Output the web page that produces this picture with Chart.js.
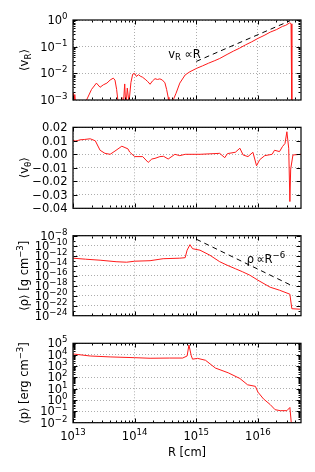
<!DOCTYPE html>
<html><head><meta charset="utf-8">
<script src="https://cdn.jsdelivr.net/npm/chart.js@4.4.1/dist/chart.umd.min.js"></script>
<style>
html,body{margin:0;padding:0;background:#fff;}
#wrap{position:relative;width:315px;height:472px;}
canvas{position:absolute;left:0;top:0;}
</style></head>
<body><div id="wrap">
<canvas id="c1" width="315" height="472"></canvas>
<canvas id="c2" width="315" height="472"></canvas>
<canvas id="c3" width="315" height="472"></canvas>
<canvas id="c4" width="315" height="472"></canvas>
</div>
<script>
// ---------- DATA ----------
// panel 1: <v_R>
const R_vr = [1.0e13,1.02e13,1.07e13,1.12e13,1.6e13,1.66e13,2.0e13,2.4e13,2.75e13,3.1e13,3.55e13,4.0e13,4.5e13,4.8e13,5.1e13,5.4e13,5.75e13,6.2e13,6.5e13,6.9e13,7.2e13,7.6e13,8.1e13,8.7e13,9.3e13,1.0e14,1.07e14,1.15e14,1.23e14,1.35e14,1.48e14,1.62e14,1.78e14,1.95e14,2.14e14,2.34e14,2.57e14,2.82e14,3.1e14,3.3e14,3.5e14,3.6e14,4.0e14,4.3e14,4.7e14,5.4e14,6.6e14,7.9e14,1.02e15,1.26e15,1.58e15,2.0e15,2.4e15,3.16e15,4.0e15,5.0e15,6.3e15,7.9e15,1.0e16,1.26e16,1.58e16,2.0e16,2.5e16,2.82e16,3.3e16,3.45e16,3.55e16];
const vr   = [1.8e-3,5e-4,1.6e-3,5e-4,5e-4,1.0e-3,2.5e-3,4.3e-3,3.0e-3,3.7e-3,4.3e-3,5.6e-3,6.6e-3,5.6e-3,2.5e-3,8e-4,4e-4,1.25e-3,5e-4,4.0e-3,5e-4,2.8e-3,8e-4,4.5e-3,9.3e-3,1.0e-2,7.6e-3,8.9e-3,7.9e-3,7.1e-3,6.0e-3,5.0e-3,3.9e-3,5.2e-3,6.3e-3,5.9e-3,6.2e-3,5.6e-3,4.4e-3,2.5e-3,1.26e-3,5e-4,9e-4,1.1e-3,1.8e-3,4.3e-3,8.7e-3,1.15e-2,1.55e-2,1.9e-2,2.4e-2,3.0e-2,3.6e-2,5.1e-2,6.8e-2,8.7e-2,0.117,0.151,0.204,0.263,0.35,0.436,0.575,0.63,0.79,0.72,3e-4];
const R_fitV = [1.0e15, 3.3e16];
const fitV   = [2.8e-2, 0.93];

// panel 2: <v_theta>
const R_vt = [1.0e13,1.12e13,1.29e13,1.55e13,1.9e13,2.3e13,2.75e13,3.3e13,4.0e13,4.8e13,6.2e13,7.8e13,8.3e13,1.0e14,1.35e14,1.66e14,1.9e14,2.14e14,2.57e14,2.95e14,3.5e14,4.5e14,5.4e14,6.6e14,1.15e15,2.4e15,2.9e15,3.2e15,4.3e15,5.1e15,5.75e15,6.9e15,8.3e15,9.5e15,1.07e16,1.29e16,1.7e16,1.86e16,2.24e16,2.5e16,2.75e16,2.95e16,3.16e16,3.3e16,3.4e16,3.7e16,5.0e16];
const vt   = [0.0102,0.0098,0.0107,0.011,0.0115,0.010,0.003,0.0007,0.0,0.0024,0.006,0.004,0.0017,-0.0017,-0.0017,-0.006,-0.0035,-0.003,-0.0017,-0.0015,-0.0035,0.0,-0.001,0.0,0.0,0.0007,-0.0025,0.0005,0.0015,0.0045,-0.0005,-0.0017,0.0015,-0.0085,-0.004,-0.001,0.0,0.003,0.002,0.0057,0.008,0.0167,0.0045,-0.035,-0.011,-0.0005,0.0];

// panel 3: <rho>
const R_rho = [1.0e13,1.6e13,2.75e13,5.0e13,7.4e13,1.0e14,1.78e14,2.9e14,5.4e14,6.6e14,7.1e14,7.9e14,8.7e14,1.15e15,1.66e15,2.4e15,3.16e15,4.3e15,5.6e15,7.4e15,1.0e16,1.58e16,2.24e16,3.3e16,3.55e16,4.8e16];
const rho   = [3.2e-13,2.0e-13,1.26e-13,6.3e-14,5.0e-14,7.9e-14,1.0e-13,2.5e-13,3.2e-13,4.0e-13,1.26e-11,1.6e-10,2.5e-11,1.26e-11,1.26e-12,6.3e-14,1.26e-14,2.5e-15,6.3e-16,1.26e-16,1.26e-17,5.0e-19,1.26e-19,2.0e-20,2.5e-23,2.0e-23];
const R_fitRho = [1.0e15, 3.3e16];
const fitRho   = [2.0e-9, 1.6e-18];

// panel 4: <p>
const R_p = [1.0e13,1.9e13,4.0e13,1.0e14,1.78e14,3.7e14,6.0e14,7.1e14,7.6e14,8.3e14,8.7e14,1.05e15,1.41e15,2.04e15,3.3e15,5.1e15,6.8e15,9.1e15,1.0e16,1.23e16,1.58e16,1.9e16,2.3e16,2.95e16,3.3e16,3.55e16];
const pr  = [1.15e4,7.6e3,6.3e3,5.4e3,4.8e3,5.0e3,5.0e3,7.6e3,7.1e4,7.9e3,4.0e3,4.7e3,3.2e3,660,250,79,22,16,5.0,1.26,0.4,0.14,0.115,0.115,0.22,3e-3];

// tick labels
const xTickExp   = [13,14,15,16];
const vrTickExp  = [0,-1,-2,-3];
const vtTicks    = [0.02,0.01,0.00,-0.01,-0.02,-0.03,-0.04];
const rhoTickExp = [-8,-10,-12,-14,-16,-18,-20,-22,-24];
const pTickExp   = [5,4,3,2,1,0,-1,-2];

// ---------- HELPERS ----------
const FONT = '"DejaVu Sans", sans-serif';
const FS = 11.5;
const X_MIN = 1e13, X_MAX = 5e16;
function mstr(n){ return n < 0 ? '\u2212' + Math.abs(n) : String(n); }
function pow10Parts(e){ return [{t:'10'},{t:mstr(e),s:'sup'}]; }
function partFont(p, fs){ return (p.s ? fs*0.75 : fs) + 'px ' + FONT; }
function richWidth(ctx, parts, fs){
  let w = 0;
  for (const p of parts){ ctx.font = partFont(p, fs); w += ctx.measureText(p.t).width; }
  return w;
}
function drawRich(ctx, parts, x, y, fs, align){
  const w = richWidth(ctx, parts, fs);
  let cx = align === 'right' ? x - w : (align === 'center' ? x - w/2 : x);
  ctx.textAlign = 'left'; ctx.textBaseline = 'alphabetic';
  for (const p of parts){
    ctx.font = partFont(p, fs);
    const dy = p.s === 'sup' ? -0.45*fs : (p.s === 'sub' ? 0.22*fs : 0);
    ctx.fillText(p.t, cx, y + dy);
    cx += ctx.measureText(p.t).width;
  }
}
function decadeMinors(lo, hi, maxV){
  const out = [];
  for (let e = lo; e <= hi; e++) for (let m = 2; m <= 9; m++){ const v = m*Math.pow(10,e); if (v < maxV) out.push(v); }
  return out;
}
const xMajors = xTickExp.map(e => Math.pow(10,e));
const xMinors = decadeMinors(13,16,X_MAX);

function frameTicksPlugin(cfg){
  return {
    id: 'frameTicks',
    afterDatasetsDraw(chart){
      const ctx = chart.ctx, a = chart.chartArea;
      const xs = chart.scales.x, ys = chart.scales.y;
      ctx.save();
      ctx.strokeStyle = '#000'; ctx.lineWidth = 1;
      const L = Math.round(a.left)+0.5, Rr = Math.round(a.right)-0.5, T = Math.round(a.top)+0.5, B = Math.round(a.bottom)-0.5;
      ctx.beginPath();
      const tick = (v, len, horiz) => {
        if (horiz){
          const px = Math.round(xs.getPixelForValue(v))+0.5;
          if (px < L-0.1 || px > Rr+0.1) return;
          ctx.moveTo(px, B); ctx.lineTo(px, B-len);
          ctx.moveTo(px, T); ctx.lineTo(px, T+len);
        } else {
          const py = Math.round(ys.getPixelForValue(v))+0.5;
          if (py < T-0.1 || py > B+0.1) return;
          ctx.moveTo(L, py); ctx.lineTo(L+len, py);
          ctx.moveTo(Rr, py); ctx.lineTo(Rr-len, py);
        }
      };
      xMajors.forEach(v => tick(v, 4, true));
      xMinors.forEach(v => tick(v, 2, true));
      cfg.yMajors.forEach(v => tick(v, 4, false));
      cfg.yMinors.forEach(v => tick(v, 2, false));
      ctx.stroke();
      ctx.lineWidth = 1.2;
      ctx.strokeRect(a.left, a.top, a.right - a.left, a.bottom - a.top);
      ctx.fillStyle = '#000';
      // y tick labels
      cfg.yLabels.forEach(l => {
        const py = ys.getPixelForValue(l.v);
        drawRich(ctx, l.parts, a.left - 5.5, py + 0.36*FS, FS, 'right');
      });
      // x tick labels
      if (cfg.xLabels){
        xTickExp.forEach(e => {
          const px = xs.getPixelForValue(Math.pow(10,e));
          drawRich(ctx, pow10Parts(e), px, a.bottom + 17.5, FS, 'center');
        });
        ctx.font = FS + 'px ' + FONT; ctx.textAlign = 'center';
        ctx.fillText('R [cm]', (a.left + a.right)/2, a.bottom + 33);
      }
      // y title (rotated)
      ctx.save();
      ctx.translate(cfg.titleX, (a.top + a.bottom)/2);
      ctx.rotate(-Math.PI/2);
      drawRich(ctx, cfg.title, 0, 4, FS, 'center');
      ctx.restore();
      // annotation
      if (cfg.note){
        drawRich(ctx, cfg.note.parts, xs.getPixelForValue(cfg.note.x), ys.getPixelForValue(cfg.note.y), FS, 'left');
      }
      ctx.restore();
    }
  };
}

function makeChart(id, top, bottom, yOpts, datasets, cfg){
  const gridCommon = { color: 'rgba(0,0,0,0.32)', lineWidth: 1, drawTicks: false };
  return new Chart(document.getElementById(id), {
    type: 'line',
    data: { datasets },
    options: {
      responsive: false, animation: false, devicePixelRatio: 1,
      layout: { padding: { left: 73, right: 14, top: top, bottom: 472 - bottom } },
      plugins: { legend: { display: false }, tooltip: { enabled: false } },
      elements: { point: { radius: 0 }, line: { tension: 0 } },
      scales: {
        x: { type: 'logarithmic', min: X_MIN, max: X_MAX,
             ticks: { display: false }, grid: gridCommon, border: { display: false, dash: [1,2] },
             afterBuildTicks: s => { s.ticks = xMajors.map(v => ({ value: v })); } },
        y: Object.assign({ ticks: { display: false }, grid: gridCommon, border: { display: false, dash: [1,2] },
             afterBuildTicks: s => { s.ticks = cfg.yMajors.map(v => ({ value: v })); } }, yOpts)
      }
    },
    plugins: [frameTicksPlugin(cfg)]
  });
}
function pts(xa, ya){ return xa.map((x,i) => ({ x: x, y: ya[i] })); }
const RED = '#ff1a1a';
function redSet(xa, ya){ return { data: pts(xa, ya), borderColor: RED, borderWidth: 1, fill: false, pointRadius: 0 }; }
function dashSet(xa, ya){ return { data: pts(xa, ya), borderColor: '#000', borderWidth: 1, borderDash: [5,4], fill: false, pointRadius: 0 }; }

// panel 1
makeChart('c1', 20, 100, { type: 'logarithmic', min: 1e-3, max: 1 },
  [dashSet(R_fitV, fitV), redSet(R_vr, vr)],
  { yMajors: vrTickExp.map(e => Math.pow(10,e)), yMinors: decadeMinors(-3,-1,1),
    yLabels: vrTickExp.map(e => ({ v: Math.pow(10,e), parts: pow10Parts(e) })),
    title: [{t:'\u27E8v'},{t:'R',s:'sub'},{t:'\u27E9'}], titleX: 24,
    note: { x: 3.5e14, y: 3.8e-2, parts: [{t:'v'},{t:'R',s:'sub'},{t:' \u221DR'}] } });

// panel 2
makeChart('c2', 127.3, 208.3, { type: 'linear', min: -0.04, max: 0.02 },
  [redSet(R_vt, vt)],
  { yMajors: vtTicks, yMinors: [],
    yLabels: vtTicks.map(v => ({ v: v, parts: [{t: (v < 0 ? '\u2212' : '') + Math.abs(v).toFixed(2)}] })),
    title: [{t:'\u27E8v'},{t:'\u03B8',s:'sub'},{t:'\u27E9'}], titleX: 24 });

// panel 3
makeChart('c3', 235.7, 315.7, { type: 'logarithmic', min: 1e-24, max: 1e-8 },
  [dashSet(R_fitRho, fitRho), redSet(R_rho, rho)],
  { yMajors: rhoTickExp.map(e => Math.pow(10,e)), yMinors: [-9,-11,-13,-15,-17,-19,-21,-23].map(e => Math.pow(10,e)),
    yLabels: rhoTickExp.map(e => ({ v: Math.pow(10,e), parts: pow10Parts(e) })),
    title: [{t:'\u27E8\u03C1\u27E9 [g cm'},{t:'\u22123',s:'sup'},{t:']'}], titleX: 24,
    note: { x: 6.6e15, y: 4e-14, parts: [{t:'\u03C1\u2009\u221DR'},{t:'\u22126',s:'sup'}] } });

// panel 4
makeChart('c4', 343.3, 422.7, { type: 'logarithmic', min: 1e-2, max: 1e5 },
  [redSet(R_p, pr)],
  { yMajors: pTickExp.map(e => Math.pow(10,e)), yMinors: decadeMinors(-2,4,1e5),
    yLabels: pTickExp.map(e => ({ v: Math.pow(10,e), parts: pow10Parts(e) })),
    title: [{t:'\u27E8p\u27E9 [erg cm'},{t:'\u22123',s:'sup'},{t:']'}], titleX: 24,
    xLabels: true });
</script>
</body></html>
